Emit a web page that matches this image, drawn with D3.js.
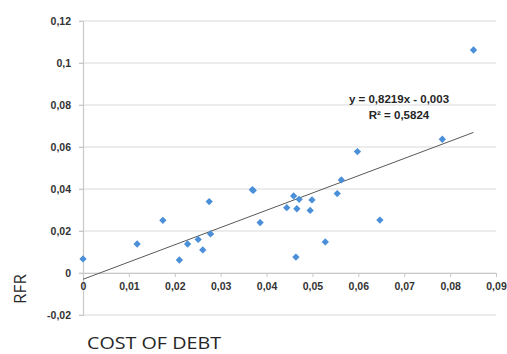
<!DOCTYPE html>
<html>
<head>
<meta charset="utf-8">
<script src="https://cdn.jsdelivr.net/npm/d3@7"></script>
<style>
  html, body { margin: 0; padding: 0; background: #fff; }
  svg { display: block; }
  .tick text { font-family: "Liberation Sans", Arial, sans-serif; font-weight: bold; font-size: 10.5px; fill: #333; }
</style>
</head>
<body>
<svg id="chart" width="507" height="354"></svg>
<script>
// Cost of debt (x) against risk-free rate (y)
const costOfDebt = [0, 0.0118, 0.0174, 0.0210, 0.0228, 0.0251, 0.0261, 0.0275, 0.0278, 0.0369, 0.0371,
  0.0386, 0.0444, 0.0459, 0.0464, 0.0466, 0.0471, 0.0495, 0.0499, 0.0528, 0.0554, 0.0563, 0.0598,
  0.0647, 0.0783, 0.0851];
const rfr = [0.0067, 0.0138, 0.0251, 0.0062, 0.0138, 0.0160, 0.0110, 0.0340, 0.0186, 0.0397, 0.0393,
  0.0240, 0.0311, 0.0367, 0.0076, 0.0306, 0.0351, 0.0298, 0.0348, 0.0148, 0.0378, 0.0443, 0.0578,
  0.0252, 0.0637, 0.1062];

// Linear trendline
const slope = 0.8219;
const intercept = -0.003;
const equationLines = ["y = 0,8219x - 0,003", "R² = 0,5824"];

const xTicks = [0, 0.01, 0.02, 0.03, 0.04, 0.05, 0.06, 0.07, 0.08, 0.09];
const yTicks = [-0.02, 0, 0.02, 0.04, 0.06, 0.08, 0.1, 0.12];
const fmt = v => String(+v.toFixed(2)).replace(".", ",");

const svg = d3.select("#chart");
const x = d3.scaleLinear().domain([0, 0.09]).range([83, 496]);
const y = d3.scaleLinear().domain([-0.02, 0.12]).range([315, 21]);

// Horizontal gridlines
svg.append("g")
  .selectAll("line")
  .data(yTicks)
  .join("line")
  .attr("x1", x(0) - 4).attr("x2", x(0.09))
  .attr("y1", d => y(d)).attr("y2", d => y(d))
  .attr("stroke", "#d9d9d9").attr("stroke-width", 1.2);

// Y axis
const yAxis = svg.append("g")
  .attr("transform", `translate(${x(0)},0)`)
  .call(d3.axisLeft(y).tickValues(yTicks).tickFormat(fmt).tickSize(4).tickPadding(8));
yAxis.select(".domain").attr("stroke", "#c8c8c8").attr("stroke-width", 1.2);
yAxis.selectAll(".tick line").attr("stroke", "#c8c8c8");

// X axis along zero
const xAxis = svg.append("g")
  .attr("transform", `translate(0,${y(0)})`)
  .call(d3.axisBottom(x).tickValues(xTicks).tickFormat(fmt).tickSize(4).tickPadding(6).tickSizeOuter(0));
xAxis.select(".domain").attr("stroke", "#c8c8c8").attr("stroke-width", 1.2);
xAxis.selectAll(".tick line").attr("stroke", "#c8c8c8");

// Trendline over the data range
const xMax = d3.max(costOfDebt);
svg.append("line")
  .attr("x1", x(0)).attr("y1", y(intercept))
  .attr("x2", x(xMax)).attr("y2", y(slope * xMax + intercept))
  .attr("stroke", "#595959").attr("stroke-width", 1);

// Points as diamonds
const diamond = d3.symbol().type(d3.symbolDiamond2).size(34);
svg.append("g")
  .selectAll("path")
  .data(costOfDebt.map((c, i) => [c, rfr[i]]))
  .join("path")
  .attr("d", diamond)
  .attr("transform", d => `translate(${x(d[0])},${y(d[1])})`)
  .attr("fill", "#4a8fd8");

// Trendline equation
svg.append("g")
  .selectAll("text")
  .data(equationLines)
  .join("text")
  .attr("x", 399)
  .attr("y", (d, i) => 103 + i * 16)
  .attr("text-anchor", "middle")
  .attr("font-family", "Liberation Sans, Arial, sans-serif")
  .attr("font-weight", "bold")
  .attr("font-size", 11.5)
  .attr("fill", "#262626")
  .text(d => d);

// Axis titles
svg.append("text")
  .attr("transform", "translate(26,289) rotate(-90)")
  .attr("text-anchor", "middle")
  .attr("font-family", "Open Sans, sans-serif")
  .attr("font-size", 17)
  .attr("fill", "#262626")
  .text("RFR");

svg.append("text")
  .attr("x", 87).attr("y", 349)
  .attr("font-family", "Open Sans, sans-serif")
  .attr("font-size", 17)
  .attr("textLength", 134)
  .attr("lengthAdjust", "spacingAndGlyphs")
  .attr("fill", "#262626")
  .text("COST OF DEBT");
</script>
</body>
</html>
